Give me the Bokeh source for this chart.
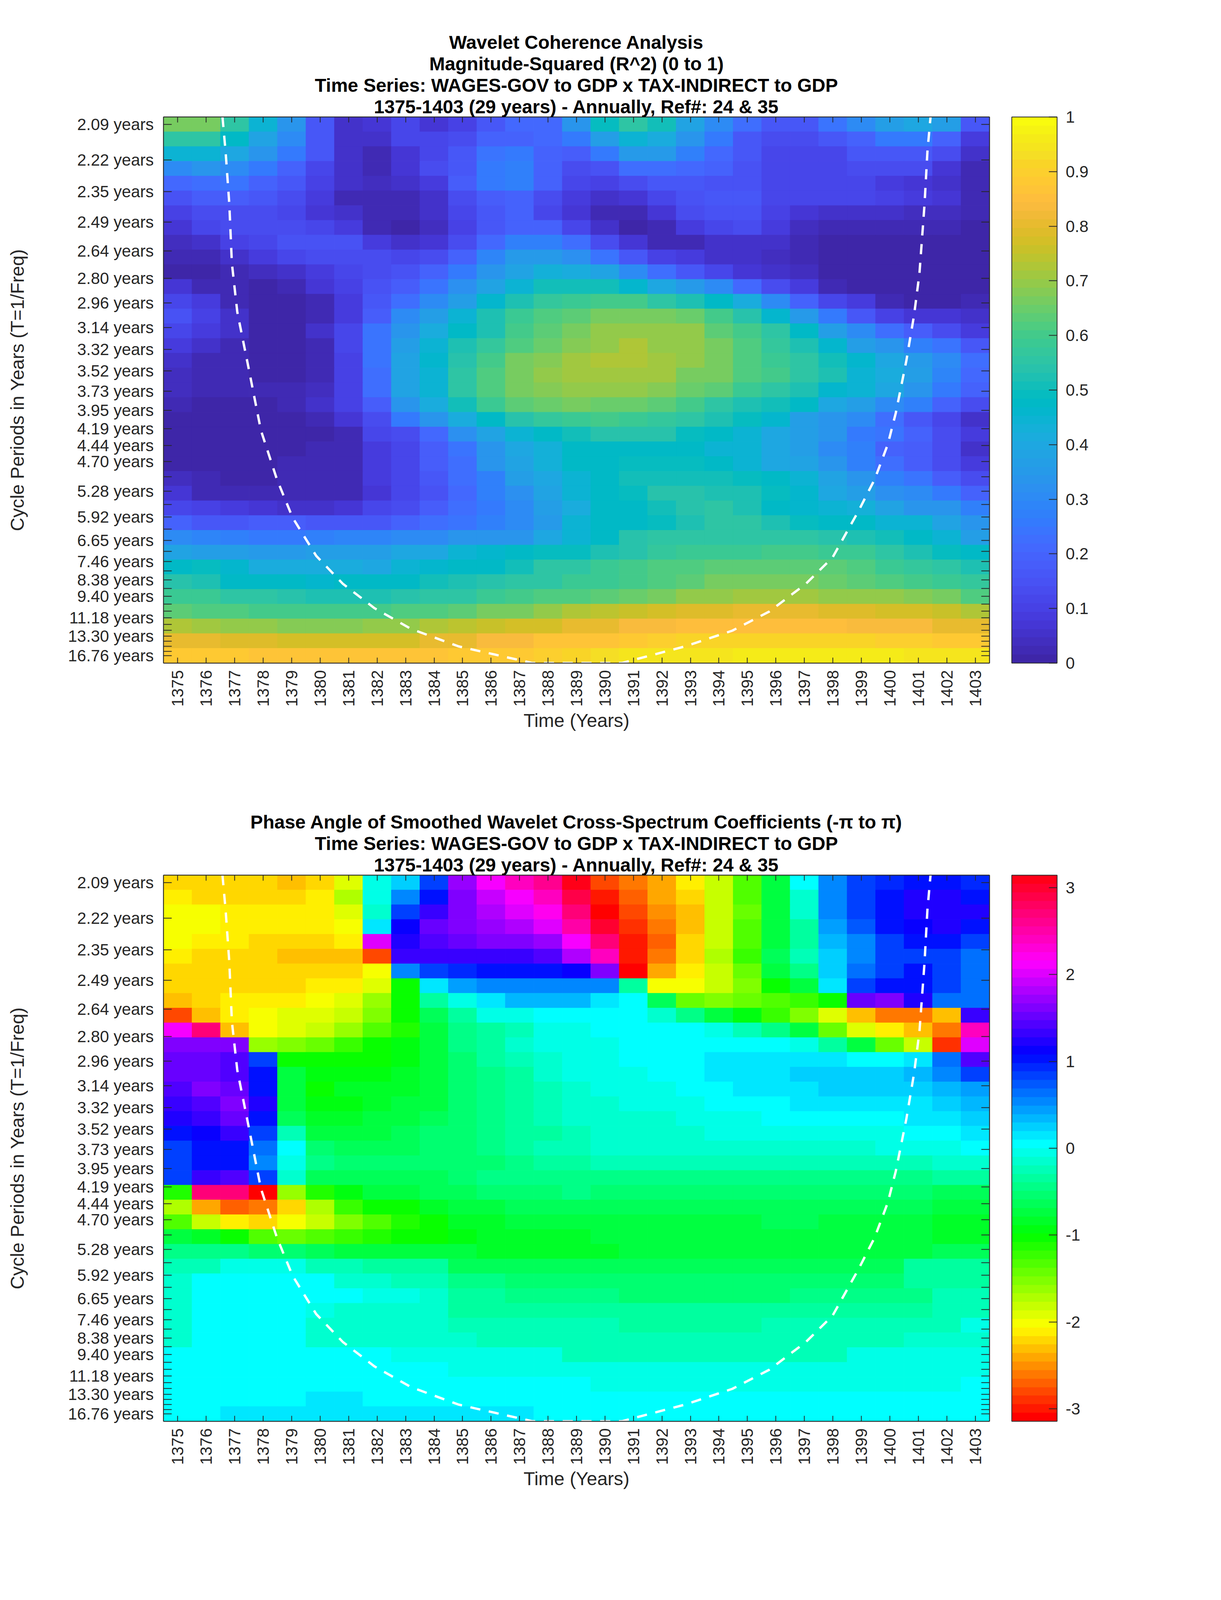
import colorsys
import numpy as np
from bokeh.embed import file_html
from bokeh.layouts import column
from bokeh.models import (ColorBar, ColumnDataSource, FixedTicker, LinearAxis, LinearColorMapper, Range1d, Title)
from bokeh.plotting import figure
from bokeh.resources import INLINE

YEARS = list(range(1375, 1404))
PERIODS = [2.09, 2.22, 2.35, 2.49, 2.64, 2.80, 2.96, 3.14, 3.32, 3.52, 3.73, 3.95, 4.19, 4.44, 4.70, 4.98,
           5.28, 5.59, 5.92, 6.27, 6.65, 7.05, 7.46, 7.91, 8.38, 8.88, 9.40, 9.96, 10.55, 11.18, 11.84, 12.55,
           13.30, 14.09, 14.93, 15.82, 16.76]
UNLABELLED = [4.98, 5.59, 6.27, 7.05, 7.91, 8.88, 9.96, 10.55, 11.84, 12.55, 14.09, 14.93, 15.82]

# Magnitude-squared coherence, one row per period (top to bottom), one column per year
COHERENCE = [
    [.66,.66,.56,.44,.33,.17,.05,.07,.11,.07,.10,.17,.21,.21,.33,.49,.56,.50,.39,.31,.22,.17,.17,.24,.31,.36,.40,.36,.17],
    [.55,.55,.48,.39,.31,.17,.06,.06,.11,.12,.14,.19,.20,.21,.26,.36,.45,.42,.33,.26,.17,.13,.14,.16,.20,.25,.26,.20,.09],
    [.45,.45,.40,.34,.25,.17,.06,.03,.07,.12,.16,.24,.25,.20,.18,.26,.35,.35,.27,.21,.16,.12,.12,.12,.17,.17,.17,.14,.05],
    [.30,.33,.30,.25,.19,.12,.05,.03,.07,.13,.17,.25,.27,.20,.14,.15,.22,.22,.21,.19,.15,.11,.11,.11,.13,.13,.13,.07,.03],
    [.21,.23,.24,.20,.16,.10,.05,.04,.06,.09,.18,.25,.27,.20,.11,.10,.13,.17,.17,.15,.15,.11,.11,.11,.11,.09,.07,.06,.03],
    [.15,.18,.18,.16,.13,.08,.03,.03,.03,.06,.13,.18,.19,.13,.09,.05,.07,.12,.15,.16,.16,.12,.11,.11,.11,.10,.09,.07,.03],
    [.10,.13,.14,.14,.11,.07,.05,.02,.02,.05,.11,.16,.19,.12,.07,.03,.03,.07,.13,.15,.15,.10,.07,.06,.06,.06,.04,.04,.03],
    [.07,.11,.13,.14,.14,.11,.09,.03,.01,.04,.10,.16,.20,.20,.11,.05,.01,.03,.08,.12,.13,.08,.04,.03,.03,.03,.03,.03,.01],
    [.04,.06,.10,.11,.15,.15,.15,.09,.05,.07,.14,.21,.27,.28,.22,.13,.07,.03,.03,.05,.06,.05,.03,.01,.01,.01,.01,.01,.01],
    [.02,.03,.05,.08,.11,.13,.13,.13,.12,.14,.19,.29,.35,.35,.32,.24,.17,.10,.08,.05,.05,.04,.03,.01,.01,.01,.01,.01,.01],
    [.01,.01,.02,.04,.06,.09,.12,.13,.15,.19,.26,.33,.38,.43,.42,.38,.31,.23,.16,.11,.07,.05,.04,.01,.01,.01,.01,.01,.01],
    [.07,.03,.02,.01,.03,.07,.10,.15,.18,.24,.32,.38,.45,.50,.50,.50,.46,.40,.35,.30,.21,.14,.08,.03,.01,.01,.01,.01,.01],
    [.12,.08,.03,.01,.01,.03,.08,.16,.22,.30,.37,.46,.53,.57,.59,.60,.60,.55,.53,.47,.41,.31,.20,.11,.08,.03,.01,.01,.03],
    [.15,.10,.05,.01,.01,.03,.09,.18,.30,.36,.45,.52,.58,.62,.64,.66,.67,.67,.65,.60,.54,.46,.35,.25,.16,.10,.07,.07,.05],
    [.12,.08,.05,.01,.01,.05,.12,.24,.33,.42,.47,.53,.60,.64,.67,.70,.70,.70,.69,.64,.60,.55,.47,.36,.31,.22,.18,.13,.09],
    [.09,.05,.03,.01,.01,.03,.12,.24,.36,.44,.52,.57,.62,.65,.68,.70,.72,.70,.69,.66,.62,.57,.52,.46,.36,.33,.27,.24,.17],
    [.06,.03,.03,.01,.01,.03,.10,.24,.38,.46,.54,.60,.66,.68,.71,.72,.72,.71,.69,.67,.62,.59,.55,.50,.46,.40,.35,.30,.23],
    [.04,.03,.02,.01,.01,.03,.10,.23,.39,.45,.56,.62,.67,.69,.71,.71,.71,.71,.67,.66,.62,.60,.56,.53,.45,.42,.36,.29,.21],
    [.04,.03,.02,.02,.03,.04,.10,.23,.39,.45,.55,.61,.66,.68,.69,.69,.69,.68,.65,.63,.58,.56,.53,.46,.44,.40,.34,.26,.19],
    [.03,.01,.01,.01,.03,.05,.10,.18,.33,.41,.50,.58,.63,.65,.66,.65,.65,.63,.60,.56,.53,.51,.47,.40,.36,.31,.27,.19,.13],
    [.01,.01,.01,.01,.01,.02,.07,.13,.26,.34,.42,.48,.54,.57,.59,.60,.58,.57,.55,.53,.49,.46,.36,.33,.30,.22,.17,.11,.06],
    [.01,.01,.01,.01,.01,.00,.03,.11,.14,.21,.32,.38,.45,.48,.51,.54,.54,.54,.49,.47,.44,.40,.37,.33,.26,.24,.19,.13,.08],
    [.01,.01,.01,.01,.01,.03,.03,.08,.12,.18,.24,.33,.40,.43,.47,.47,.48,.47,.47,.45,.45,.40,.36,.31,.27,.20,.18,.13,.06],
    [.01,.01,.01,.01,.03,.03,.03,.09,.12,.18,.22,.33,.38,.43,.47,.47,.49,.49,.49,.48,.45,.40,.39,.34,.28,.23,.18,.14,.09],
    [.04,.02,.01,.01,.03,.03,.03,.08,.11,.16,.23,.28,.36,.40,.45,.47,.51,.51,.51,.51,.49,.47,.45,.39,.34,.27,.24,.18,.14],
    [.07,.03,.02,.02,.03,.03,.03,.07,.12,.15,.21,.27,.32,.39,.45,.47,.49,.54,.54,.53,.52,.49,.46,.40,.36,.32,.30,.25,.20],
    [.12,.10,.09,.07,.05,.05,.07,.11,.13,.18,.22,.26,.31,.37,.42,.47,.47,.50,.54,.55,.53,.48,.46,.45,.43,.38,.34,.33,.28],
    [.20,.16,.17,.18,.18,.17,.17,.17,.19,.22,.24,.27,.30,.35,.45,.47,.48,.49,.53,.55,.55,.53,.49,.47,.47,.45,.44,.39,.33],
    [.31,.29,.27,.26,.26,.27,.29,.29,.31,.31,.33,.33,.34,.40,.45,.47,.54,.55,.56,.56,.56,.55,.55,.54,.52,.50,.47,.44,.37],
    [.38,.37,.36,.35,.35,.36,.36,.37,.40,.40,.45,.46,.47,.49,.49,.53,.54,.57,.59,.59,.59,.60,.60,.59,.59,.56,.52,.49,.48],
    [.48,.49,.46,.42,.42,.42,.42,.40,.44,.46,.47,.47,.50,.55,.56,.58,.60,.62,.62,.63,.63,.63,.63,.63,.62,.59,.57,.55,.53],
    [.54,.52,.48,.47,.47,.46,.47,.47,.48,.50,.52,.54,.55,.56,.58,.59,.60,.62,.64,.66,.66,.66,.66,.65,.64,.62,.60,.59,.57],
    [.59,.58,.56,.55,.54,.53,.53,.53,.54,.55,.56,.58,.60,.61,.62,.63,.65,.67,.69,.70,.71,.71,.71,.70,.70,.69,.68,.66,.62],
    [.64,.62,.62,.60,.60,.60,.60,.60,.61,.62,.64,.66,.67,.69,.72,.74,.76,.78,.79,.79,.80,.80,.80,.79,.79,.78,.77,.76,.72],
    [.72,.71,.70,.70,.68,.68,.68,.70,.70,.72,.74,.75,.77,.78,.80,.80,.83,.84,.85,.85,.85,.85,.85,.85,.84,.83,.83,.81,.80],
    [.81,.80,.79,.79,.78,.78,.78,.78,.78,.80,.81,.83,.84,.86,.87,.87,.89,.90,.91,.91,.91,.91,.91,.91,.91,.90,.90,.88,.88],
    [.89,.88,.88,.87,.87,.87,.87,.87,.87,.87,.88,.88,.89,.90,.92,.93,.94,.95,.95,.95,.96,.96,.96,.96,.96,.96,.95,.95,.94],
]

# Phase angle shifted by +180 degrees (0 to 360), one row per period, one column per year
PHASE_PLUS_180_DEG = [
    [53,53,51,51,45,51,70,175,195,225,278,300,315,330,355,18,30,40,60,76,105,140,180,210,225,235,240,240,235],
    [60,55,55,51,51,57,80,175,210,240,272,290,300,320,345,8,25,40,55,75,105,140,172,210,225,240,250,252,240],
    [62,62,57,57,57,57,72,172,225,255,272,285,295,305,335,0.5,18,35,50,75,100,140,170,210,225,240,250,252,252],
    [62,62,57,57,57,57,65,186,247,268,272,280,285,295,322,350,12,32,50,75,105,140,163,203,222,238,245,252,240],
    [62,57,57,52,52,52,57,296,248,262,268,272,272,278,300,335,8,27,56,75,105,140,163,197,213,225,238,240,228],
    [57,52,52,52,45,45,45,18,255,255,255,258,258,263,282,320,8,32,56,83,110,145,165,195,213,225,225,225,215],
    [51,51,51,51,51,51,51,62,210,225,232,238,238,238,243,272,5,40,60,75,100,135,155,193,218,228,238,228,217],
    [51,51,51,51,51,57,57,70,120,186,205,210,210,210,210,210,160,62,67,75,90,120,140,187,225,240,240,225,217],
    [45,51,57,57,57,62,68,85,120,160,175,190,198,198,198,190,180,143,100,92,100,105,112,120,265,272,250,217,217],
    [18,45,57,62,68,72,77,92,120,145,163,175,178,180,180,180,180,173,152,137,125,108,95,70,45,30,30,50,255],
    [300,335,45,65,72,78,88,105,115,140,155,163,168,175,175,180,180,180,180,175,165,155,140,100,68,57,50,32,318],
    [275,275,275,85,92,98,108,120,128,140,155,163,170,175,177,177,180,180,180,180,180,180,176,160,135,100,75,12,295],
    [268,268,260,225,120,120,120,120,125,140,150,160,165,170,175,177,180,180,180,187,187,187,187,187,180,180,186,215,260],
    [268,268,260,240,135,125,125,125,130,140,150,157,163,170,175,176,178,183,183,187,187,187,192,192,192,192,197,212,228],
    [262,272,265,240,140,122,130,130,133,140,148,155,162,168,170,175,175,178,182,180,190,190,190,194,194,194,194,197,208],
    [255,262,270,250,140,128,128,130,135,140,148,155,160,165,170,172,175,176,176,180,180,180,187,187,187,187,187,192,197],
    [248,258,265,240,145,130,130,135,140,143,148,155,160,165,170,172,174,174,176,178,178,180,180,180,180,180,187,187,192],
    [240,245,255,225,165,135,135,140,145,150,150,155,160,163,168,172,172,174,174,178,178,178,178,178,178,178,180,180,187],
    [225,240,240,215,180,148,143,143,145,150,150,155,160,165,165,170,170,172,172,172,172,172,172,172,172,175,175,178,180],
    [225,240,240,210,178,153,148,148,150,150,150,150,155,160,160,165,165,165,165,165,165,165,165,165,165,165,165,170,170],
    [225,258,262,230,170,145,142,142,143,145,147,152,152,152,152,155,155,155,155,155,155,155,155,155,155,155,155,158,158],
    [115,335,335,0.5,85,118,128,135,140,143,145,150,150,150,152,150,150,150,150,150,150,150,150,150,150,150,150,145,145],
    [82,40,28,32,56,80,110,122,122,130,135,140,145,145,145,143,143,143,143,143,143,143,143,143,143,143,143,135,135],
    [105,78,60,53,65,75,90,105,118,122,130,133,135,137,137,137,137,137,137,137,137,142,142,137,137,137,137,132,132],
    [135,130,120,105,100,105,110,118,120,120,125,130,130,130,130,135,135,135,135,135,135,135,135,140,140,140,140,132,132],
    [155,155,155,148,148,142,135,135,135,135,135,132,132,132,132,132,137,137,137,137,137,137,137,137,137,137,137,145,145],
    [165,165,175,175,175,168,168,160,158,158,145,145,145,145,145,145,145,145,145,145,145,145,145,145,145,145,158,158,158],
    [172,180,180,180,180,180,172,172,165,165,155,155,150,150,150,150,150,150,150,150,150,150,150,150,150,150,160,160,160],
    [172,180,180,180,180,180,180,175,175,170,162,162,156,156,156,156,150,150,150,150,150,150,156,156,156,156,156,165,165],
    [172,180,180,180,180,178,172,172,172,172,162,162,162,158,158,158,158,158,158,158,158,158,158,158,158,158,158,165,165],
    [172,180,180,180,180,172,172,172,172,172,165,165,165,165,165,165,160,160,160,160,160,168,168,168,168,168,168,168,175],
    [172,180,180,180,180,172,172,172,172,172,172,165,165,165,165,165,165,165,165,165,165,165,165,165,165,165,172,172,172],
    [180,180,180,180,180,180,180,180,175,175,175,175,175,175,168,168,168,168,168,168,168,168,168,168,175,175,175,175,175],
    [180,180,180,180,180,180,180,180,180,180,176,176,176,176,176,176,176,176,176,176,176,176,176,176,176,176,176,176,176],
    [180,180,180,180,180,180,180,180,180,180,180,180,180,180,180,176,176,176,176,176,176,176,176,176,176,176,176,176,180],
    [180,180,180,180,180,186,186,180,180,180,180,180,180,180,180,180,180,180,180,180,180,180,180,180,180,180,180,180,180],
    [180,180,187,187,187,187,187,187,187,187,187,187,187,180,180,180,180,180,180,180,180,180,180,180,180,180,180,180,180],
]

# Cone of influence: year and frequency (1/years)
COI_YEAR = [1376.57,1376.68,1376.81,1376.90,1377.09,1377.46,1377.92,1378.48,1379.03,1379.86,1380.79,1381.90,1383.19,1384.86,1387.45,
            1390.59,1392.81,1394.47,1395.77,1397.06,1397.99,1398.91,1399.47,1399.93,1400.21,1400.58,1400.85,1401.04,1401.22,1401.32,1401.43]
COI_FREQ = [.4843,.4568,.4157,.3690,.3306,.2894,.2373,.1988,.1686,.1384,.1165,.0972,.0808,.0670,.0539,
            .0539,.0670,.0794,.0945,.1165,.1371,.1741,.1988,.2263,.2510,.2921,.3278,.3608,.4157,.4568,.4843]

TITLES_1 = ["Wavelet Coherence Analysis", "Magnitude-Squared (R^2) (0 to 1)",
            "Time Series: WAGES-GOV to GDP x TAX-INDIRECT to GDP", "1375-1403 (29 years) - Annually, Ref#: 24 & 35"]
TITLES_2 = ["Phase Angle of Smoothed Wavelet Cross-Spectrum Coefficients (-\u03c0 to \u03c0)",
            "Time Series: WAGES-GOV to GDP x TAX-INDIRECT to GDP", "1375-1403 (29 years) - Annually, Ref#: 24 & 35"]
CB_TICKS_1 = [0, .1, .2, .3, .4, .5, .6, .7, .8, .9, 1]
CB_TICKS_2 = [-3, -2, -1, 0, 1, 2, 3]

PARULA_ANCHORS = [
    (.2422,.1504,.6603),(.2504,.1650,.7076),(.2578,.1818,.7511),(.2647,.1978,.7952),(.2706,.2147,.8364),(.2751,.2342,.8710),
    (.2783,.2559,.8991),(.2803,.2782,.9221),(.2813,.3006,.9414),(.2810,.3228,.9579),(.2795,.3447,.9717),(.2760,.3667,.9829),
    (.2699,.3892,.9906),(.2602,.4123,.9952),(.2440,.4358,.9988),(.2206,.4603,.9973),(.1963,.4847,.9892),(.1834,.5074,.9798),
    (.1786,.5289,.9682),(.1764,.5499,.9520),(.1687,.5703,.9359),(.1540,.5902,.9218),(.1460,.6091,.9079),(.1380,.6276,.8973),
    (.1248,.6459,.8883),(.1113,.6635,.8763),(.0952,.6798,.8598),(.0689,.6948,.8394),(.0297,.7082,.8163),(.0036,.7203,.7917),
    (.0067,.7312,.7660),(.0433,.7411,.7394),(.0964,.7500,.7120),(.1408,.7584,.6842),(.1717,.7670,.6554),(.1938,.7758,.6251),
    (.2161,.7843,.5923),(.2470,.7918,.5567),(.2906,.7973,.5188),(.3406,.8008,.4789),(.3909,.8029,.4354),(.4456,.8024,.3909),
    (.5044,.7993,.3480),(.5616,.7942,.3045),(.6174,.7876,.2612),(.6720,.7793,.2227),(.7242,.7698,.1910),(.7738,.7598,.1646),
    (.8203,.7498,.1535),(.8634,.7406,.1596),(.9035,.7330,.1774),(.9393,.7288,.2100),(.9728,.7298,.2394),(.9956,.7434,.2371),
    (.9970,.7659,.2199),(.9952,.7861,.1991),(.9892,.8086,.1812),(.9786,.8299,.1546),(.9626,.8705,.1475),(.9589,.8949,.1132),
    (.9598,.9218,.0948),(.9661,.9514,.0755),(.9763,.9831,.0538),
]


def to_hex(rgb):
    return "#%02x%02x%02x" % tuple(int(round(c * 255)) for c in rgb)


anch = np.array(PARULA_ANCHORS)
idx = np.linspace(0, len(anch) - 1, 64)
PARULA = [to_hex([np.interp(i, np.arange(len(anch)), anch[:, k]) for k in range(3)]) for i in idx]
HSV64 = [to_hex(colorsys.hsv_to_rgb(i / 64, 1, 1)) for i in range(64)]

INK = "#262626"
FONT = "Liberation Sans"
TICK_PX = "42px"
LABEL_PX = "48px"
TITLE_PX = "48px"
# The window really offers 4096px of height, so vertical positions are the reference's x 0.655
FRAME_W, FRAME_H = 2114, 1398

freqs = 1 / np.array(PERIODS)
step = (freqs[0] - freqs[-1]) / (len(freqs) - 1)
row_centres = np.linspace(freqs[0], freqs[-1], len(freqs))
overrides = {float(f): ("" if t in UNLABELLED else f"{t:.2f} years") for f, t in zip(freqs, PERIODS)}
FREQ_TICKS = [float(f) for f in freqs]


def panel(values, titles, palette, low, high, cb_ticks, border_top, border_bottom):
    values = np.array(values, dtype=float)
    yy, xx = np.meshgrid(row_centres, YEARS, indexing="ij")
    src = ColumnDataSource(dict(x=xx.ravel(), y=yy.ravel(), v=values.ravel()))
    mapper = LinearColorMapper(palette=palette, low=low, high=high)
    p = figure(frame_width=FRAME_W, frame_height=FRAME_H,
               x_range=Range1d(YEARS[0] - .5, YEARS[-1] + .5),
               y_range=Range1d(freqs[-1] - step / 2, freqs[0] + step / 2),
               output_backend="svg", toolbar_location=None, tools="",
               min_border_left=418, min_border_top=border_top, min_border_right=560, min_border_bottom=border_bottom,
               x_axis_label="Time (Years)", y_axis_label="Cycle Periods in Years (T=1/Freq)")
    p.grid.visible = False
    p.background_fill_color = None
    p.outline_line_color = INK
    p.outline_line_width = 2
    fill = {"field": "v", "transform": mapper}
    p.rect("x", "y", width=1, height=step, source=src, fill_color=fill, line_color=fill, line_width=1)
    p.line(COI_YEAR, COI_FREQ, line_color="white", line_width=6, line_dash="26 22")

    xax, yax = p.xaxis[0], p.yaxis[0]
    xax.ticker = FixedTicker(ticks=YEARS)
    xax.major_label_overrides = {y: str(y) for y in YEARS}
    xax.major_label_orientation = np.pi / 2
    xax.major_label_standoff = 18
    yax.ticker = FixedTicker(ticks=FREQ_TICKS)
    yax.major_label_overrides = overrides
    yax.major_label_standoff = 25
    top = LinearAxis(ticker=FixedTicker(ticks=YEARS), major_label_overrides={y: "" for y in YEARS},
                     major_label_standoff=0)
    right = LinearAxis(ticker=FixedTicker(ticks=FREQ_TICKS), major_label_overrides={f: "" for f in FREQ_TICKS},
                       major_label_standoff=0)
    p.add_layout(top, "above")
    p.add_layout(right, "right")
    for ax in (xax, yax, top, right):
        ax.major_tick_out = 0
        ax.minor_tick_line_color = None
        ax.axis_line_color = INK
        ax.axis_line_width = 2
        ax.major_tick_line_color = INK
        ax.major_tick_line_width = 2
        ax.major_label_text_color = INK
        ax.major_label_text_font = FONT
        ax.axis_label_text_color = INK
        ax.axis_label_text_font = FONT
        ax.axis_label_text_font_style = "normal"
    xax.major_tick_in = top.major_tick_in = 14
    yax.major_tick_in = right.major_tick_in = 21
    for ax in (xax, yax):
        ax.major_label_text_font_size = TICK_PX
        ax.axis_label_text_font_size = LABEL_PX
    xax.axis_label_standoff = 6
    yax.axis_label_standoff = 100

    cb = ColorBar(color_mapper=mapper, ticker=FixedTicker(ticks=cb_ticks), width=116, height=FRAME_H,
                  location=(57, 0), margin=0, padding=0,
                  major_tick_in=21, major_tick_out=0, major_tick_line_color=INK,
                  major_tick_line_width=2, minor_tick_line_color=None, bar_line_color=INK, bar_line_width=2,
                  border_line_color=None, background_fill_color=None, label_standoff=22,
                  major_label_text_font=FONT, major_label_text_font_size=TICK_PX, major_label_text_color=INK,
                  major_label_overrides={t: f"{t:g}" for t in cb_ticks})
    p.add_layout(cb, "right")

    for line in reversed(titles):
        p.add_layout(Title(text=line, align="center", text_font=FONT, text_font_size=TITLE_PX,
                           text_font_style="bold", text_color="black", standoff=0), "above")
    return p


p1 = panel(COHERENCE, TITLES_1, PARULA, 0, 1, CB_TICKS_1, 299, 350)
p2 = panel(np.deg2rad(np.array(PHASE_PLUS_180_DEG, dtype=float) - 180), TITLES_2, HSV64, -np.pi, np.pi, CB_TICKS_2, 193, 280)

page = column(p1, p2, spacing=0)
open("out.html", "w").write(file_html(page, INLINE))
